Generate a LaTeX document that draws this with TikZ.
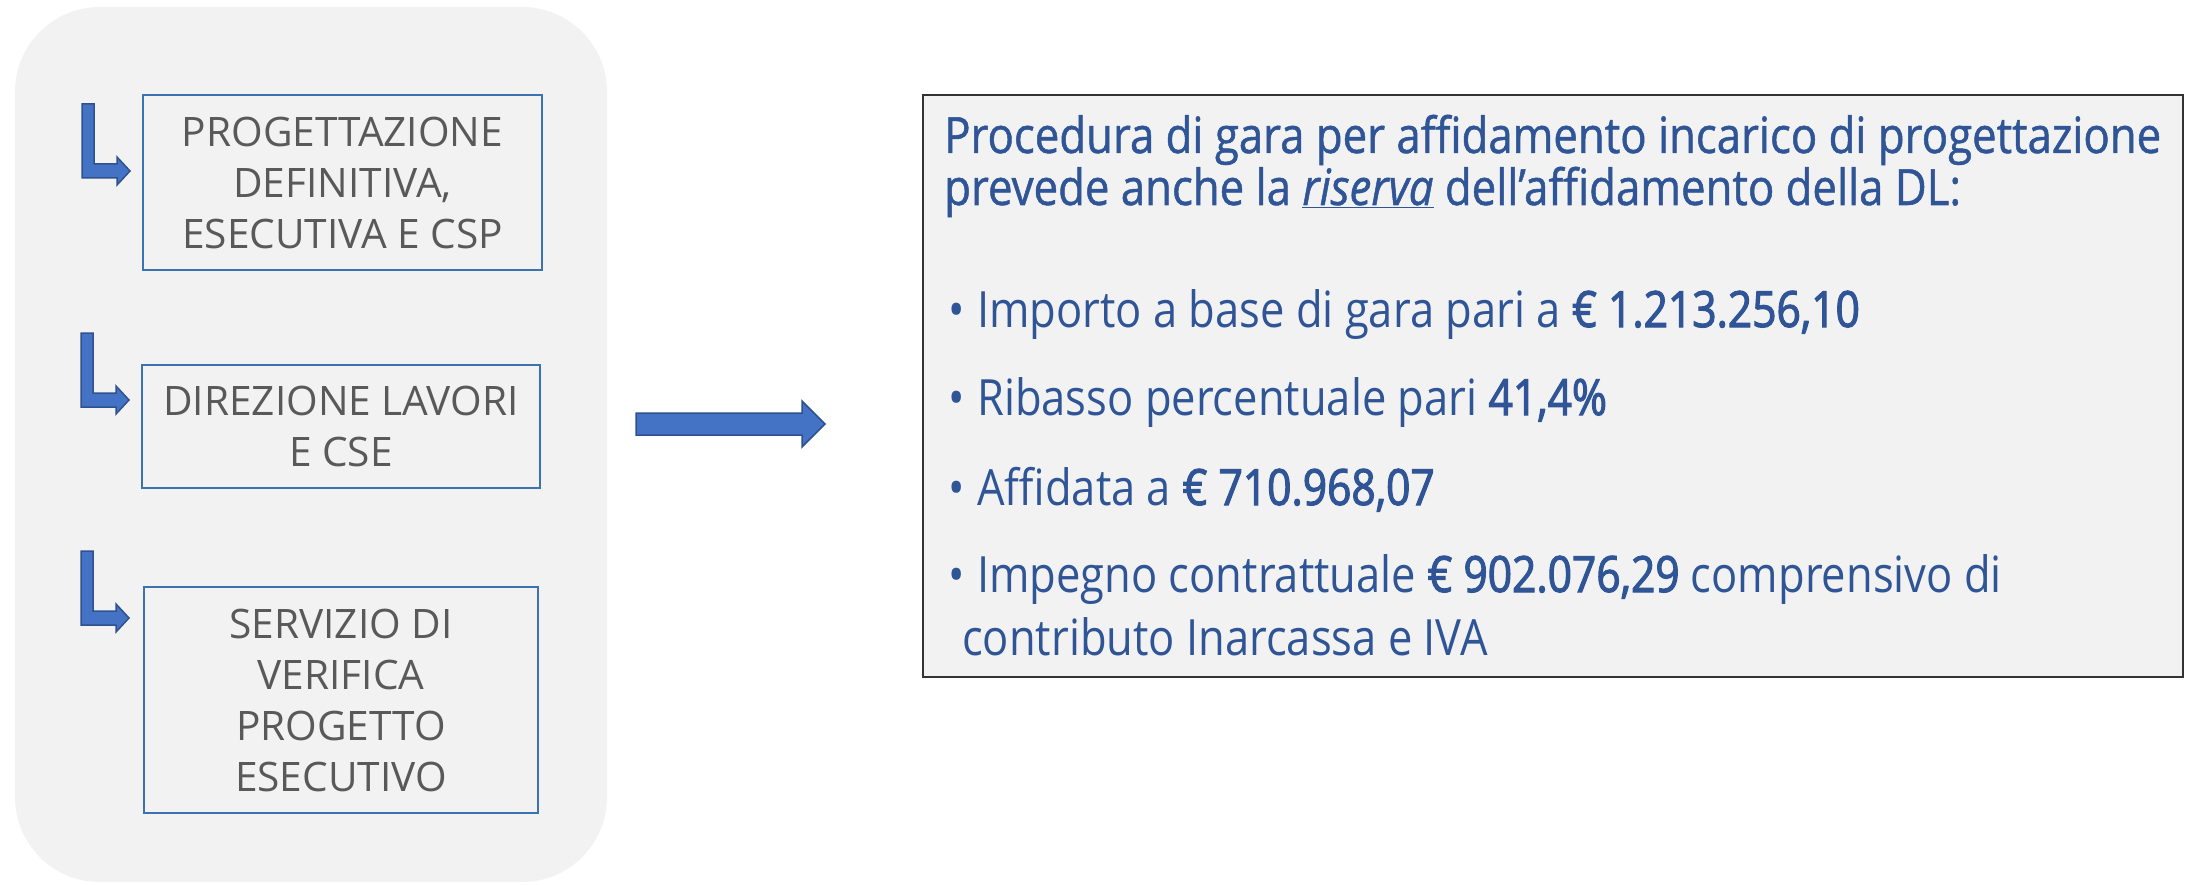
\documentclass[tikz,border=0pt]{standalone}
\usepackage{fontspec}
\setmainfont{Open Sans}
\newfontfamily\leftfont{Open Sans}
\newfontfamily\headfont[FakeStretch=0.875, FakeBold=1]{Open Sans}
\newfontfamily\rightfont[FakeStretch=0.87]{Open Sans}
\newfontfamily\valfont[FakeStretch=0.85, FakeBold=2.2]{Open Sans}
\definecolor{panelgray}{HTML}{F2F2F2}
\definecolor{boxblue}{HTML}{3A73B0}
\definecolor{txtgray}{HTML}{595959}
\definecolor{navy}{HTML}{2F5597}
\definecolor{arrowfill}{HTML}{4472C4}
\definecolor{arrowline}{HTML}{2F528F}
\tikzset{
  itembox/.style={draw=boxblue, line width=2pt, fill=panelgray, align=center,
    text=txtgray, font=\leftfont\fontsize{40.6}{51}\selectfont, inner sep=0pt},
  rline/.style={anchor=base west, inner sep=0pt, text=navy,
    font=\rightfont\fontsize{50}{52}\selectfont},
  hline/.style={rline, font=\headfont\fontsize{50}{52}\selectfont},
  bentarrow/.pic={
    \filldraw[fill=arrowfill, draw=arrowline, line width=1.5pt]
      (0,0) -- (12,0) -- (12,60) -- (35,60) -- (35,53) -- (48,67)
      -- (35,81) -- (35,74) -- (0,74) -- cycle;
  }
}
\newcommand{\blt}{\makebox[29pt][l]{•}}
\newcommand{\val}[1]{{\valfont #1}}
\begin{document}
\begin{tikzpicture}[x=1pt,y=-1pt]
\useasboundingbox (0,0) rectangle (2186,885);
\fill[white] (0,0) rectangle (2186,885);
% left panel
\fill[panelgray, rounded corners=85pt] (15,7) rectangle (607,882);
% item boxes
\node[itembox, minimum width=399pt, minimum height=175pt] (b1) at (342.5,182.5)
  {PROGETTAZIONE\\DEFINITIVA,\\ESECUTIVA E CSP};
\node[itembox, minimum width=398pt, minimum height=123pt] (b2) at (341,426.5)
  {DIREZIONE LAVORI\\E CSE};
\node[itembox, minimum width=394pt, minimum height=226pt] (b3) at (341,700)
  {SERVIZIO DI\\VERIFICA\\PROGETTO\\ESECUTIVO};
% bent arrows
\pic at (82,104) {bentarrow};
\pic at (81,333) {bentarrow};
\pic at (81,551) {bentarrow};
% big arrow
\coordinate (arrS) at (636,424);
\coordinate (arrE) at (825,424);
\filldraw[fill=arrowfill, draw=arrowline, line width=1.5pt]
  (636,413) -- (802,413) -- (802,401) -- (arrE) -- (802,447) -- (802,435)
  -- (636,435) -- cycle;
% right box
\node[draw=black!80, line width=2pt, fill=panelgray, minimum width=1260pt,
  minimum height=582pt, inner sep=0pt] (rbox) at (1553,386) {};
\node[hline] (h1) at (944,153) {Procedura di gara per affidamento incarico di progettazione};
\node[hline] (h2) at (944,205) {prevede anche la \underline{\textit{riserva}} dell’affidamento della DL:};
\node[rline] (p1) at (948,327) {\blt Importo a base di gara pari a \val{€ 1.213.256,10}};
\node[rline] (p2) at (948,415) {\blt Ribasso percentuale pari \val{41,4\%}};
\node[rline] (p3) at (948,505) {\blt Affidata a \val{€ 710.968,07}};
\node[rline] (p4) at (948,592) {\blt Impegno contrattuale \val{€ 902.076,29} comprensivo di};
\node[rline] (p5) at (962,655) {contributo Inarcassa e IVA};
\end{tikzpicture}
\end{document}
